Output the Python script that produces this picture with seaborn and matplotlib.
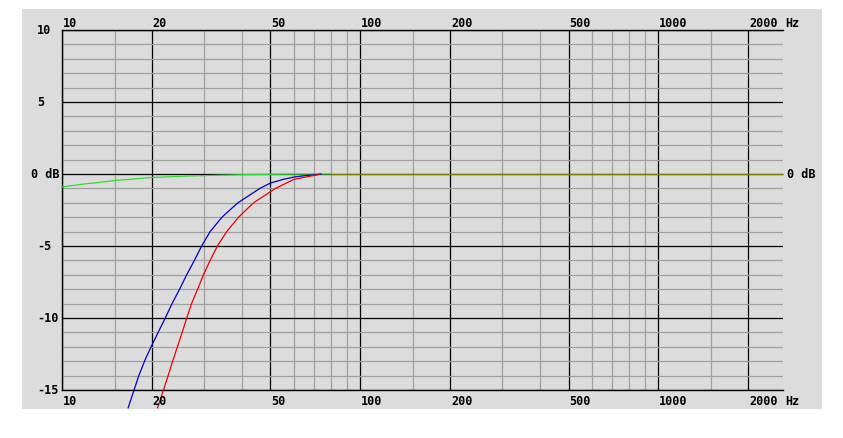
import matplotlib
matplotlib.use("Agg")
import matplotlib.pyplot as plt
import matplotlib.transforms as mtransforms
from matplotlib.patches import Rectangle
import numpy as np
import pandas as pd
import seaborn as sns

# ---- data ----
green_f = [10, 12, 13.4, 15, 20, 25, 30, 40, 50, 60, 80]
green_db = [-0.9, -0.68, -0.58, -0.46, -0.24, -0.16, -0.11, -0.05, -0.02, -0.01, 0.0]

blue_f = [16.66, 18.1, 19.0, 20, 22.2, 23.4, 24.8, 26.2, 27.8, 29.4, 31.4,
          34.4, 38.9, 46.1, 50, 55, 60, 65, 70, 74]
blue_db = [-16.25, -14.0, -12.9, -11.9, -10.0, -9.0, -8.0, -7.0, -6.0, -5.0, -4.0,
           -3.0, -2.0, -1.0, -0.63, -0.38, -0.21, -0.12, -0.06, 0.0]

red_f = [20.9, 21.9, 22.7, 23.5, 25.3, 26.2, 27.2, 28.5, 29.8, 31.4, 33.2,
         35.7, 39.1, 43.9, 52.0, 60, 70, 73]
red_db = [-16.25, -15.0, -14.0, -13.0, -11.0, -10.0, -9.0, -8.0, -7.0, -6.0, -5.0,
          -4.0, -3.0, -2.0, -1.0, -0.37, -0.1, -0.03]

olive_f = [80, 2620]
olive_db = [0.0, 0.0]

x_major = [10, 20, 50, 100, 200, 500, 1000, 2000]
x_major_labels = ["10", "20", "50", "100", "200", "500", "1000", "2000"]
x_minor = [15, 30, 40, 60, 70, 80, 90, 150, 300, 400, 600, 700, 800, 900, 1500]
y_major = [10, 5, 0, -5, -10, -15]
y_major_labels = ["10", "5", "0 dB", "-5", "-10", "-15"]
y_minor = [v for v in range(-15, 11) if v % 5 != 0]

# ---- figure ----
sns.set_style("white")
plt.rcParams["font.family"] = ["DejaVu Sans Mono", "DejaVu Sans"]
W, H = 843, 438
fig = plt.figure(figsize=(W / 100, H / 100), dpi=100, facecolor="white")
bg = "#dcdcdc"
fig.patches.append(Rectangle((22 / W, 1 - 409 / H), (822 - 22) / W, (409 - 9) / H,
                             transform=fig.transFigure, facecolor=bg,
                             edgecolor="none", zorder=-10))
ax = fig.add_axes([62 / W, (H - 390) / H, (783 - 62) / W, (390 - 30) / H])
ax.set_zorder(1)
ax.set_facecolor(bg)
ax.set_xscale("log")
ax.set_xlim(10, 2620)
ax.set_ylim(-15, 10)

ax.set_xticks(x_major)
ax.set_xticks(x_minor, minor=True)
ax.set_yticks(y_major)
ax.set_yticks(y_minor, minor=True)
ax.tick_params(which="both", length=0, labelbottom=False, labelleft=False,
               labeltop=False, labelright=False)
ax.grid(which="minor", color="#a0a0a0", linewidth=0.9)
ax.grid(which="major", color="black", linewidth=0.9)
ax.set_axisbelow(True)
for s in ["top", "bottom", "left"]:
    ax.spines[s].set_color("black")
    ax.spines[s].set_linewidth(1.0)
ax.spines["right"].set_visible(False)

lw = 0.9
series = [
    (green_f, green_db, "#33dd33"),
    (blue_f, blue_db, "#0000cc"),
    (red_f, red_db, "#ee0000"),
    (olive_f, olive_db, "#808000"),
]
for f, d, c in series:
    df = pd.DataFrame({"f": f, "db": d})
    sns.lineplot(data=df, x="f", y="db", ax=ax, color=c, linewidth=lw,
                 estimator=None, sort=False, clip_on=False, zorder=3)
ax.set_xlabel("")
ax.set_ylabel("")

# ---- labels ----
fs = 8.5
fkw = dict(fontsize=fs, fontweight="bold", color="black",
           family=["DejaVu Sans Mono", "DejaVu Sans"])
xt = mtransforms.blended_transform_factory(ax.transData, ax.transAxes)
top_t = mtransforms.offset_copy(xt, fig=fig, x=1, y=3, units="dots")
bot_t = mtransforms.offset_copy(xt, fig=fig, x=1, y=-5, units="dots")
for v, lab in zip(x_major, x_major_labels):
    ax.text(v, 1, lab, transform=top_t, ha="left", va="baseline", **fkw)
    ax.text(v, 0, lab, transform=bot_t, ha="left", va="top", **fkw)
hz_top = mtransforms.offset_copy(ax.transAxes, fig=fig, x=2, y=3, units="dots")
hz_bot = mtransforms.offset_copy(ax.transAxes, fig=fig, x=2, y=-5, units="dots")
ax.text(1, 1, "Hz", transform=hz_top, ha="left", va="baseline", **fkw)
ax.text(1, 0, "Hz", transform=hz_bot, ha="left", va="top", **fkw)

yt = mtransforms.blended_transform_factory(ax.transAxes, ax.transData)
for v, lab in zip(y_major, y_major_labels):
    off = -31 if "dB" in lab else -25
    tt = mtransforms.offset_copy(yt, fig=fig, x=off, y=-1, units="dots")
    ax.text(0, v, lab, transform=tt, ha="left", va="center", **fkw)
rt = mtransforms.offset_copy(yt, fig=fig, x=4, y=-1, units="dots")
ax.text(1, 0, "0 dB", transform=rt, ha="left", va="center", **fkw)

fig.savefig("out.png", dpi=100, facecolor="white")
